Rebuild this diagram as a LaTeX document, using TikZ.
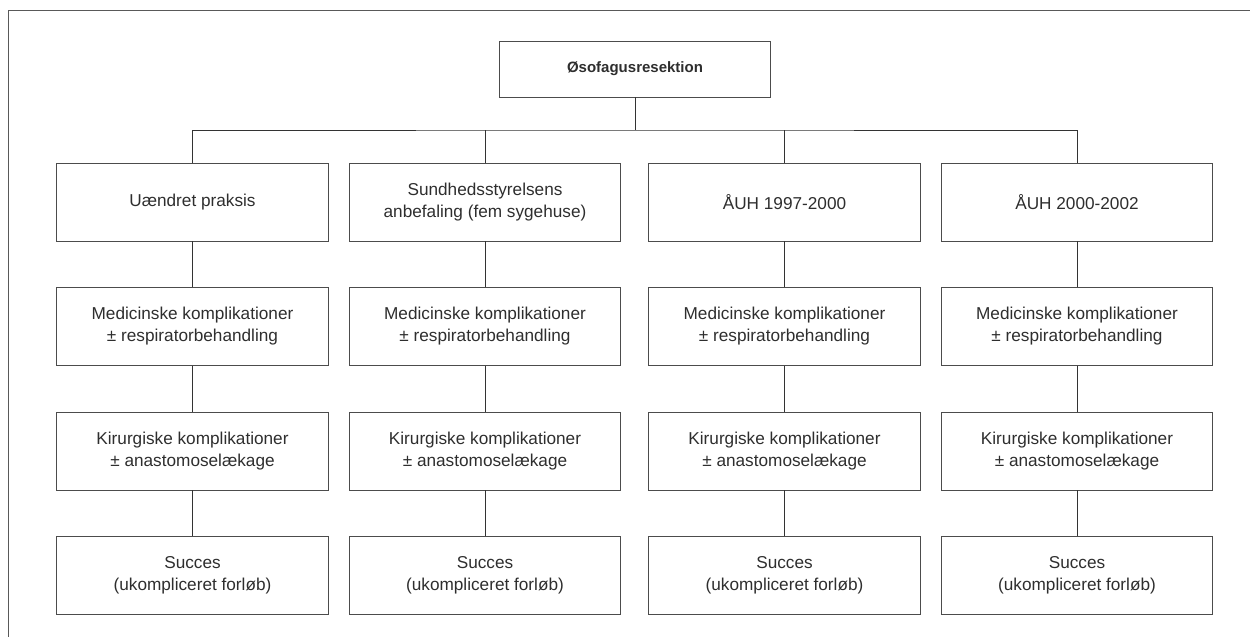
\documentclass[tikz,border=0pt]{standalone}
\usepackage{fontspec}
\setmainfont{Liberation Sans}
\begin{document}
\begin{tikzpicture}[x=1pt,y=-1pt,
  box/.style={draw=black!70,line width=0.9pt,minimum width=271.5pt,minimum height=78pt,
    align=center,inner sep=0pt,text=black!82,font=\fontsize{17.2}{22}\selectfont},
  topbox/.style={box,minimum height=56pt,font=\fontsize{15}{18}\selectfont\bfseries},
  conn/.style={draw=black!80,line width=0.9pt}]
\useasboundingbox (0,0) rectangle (1250,637);
\draw[black!65,line width=0.9pt] (1250,10) -- (8,10) -- (8,637);
\node[topbox] (top) at (635,69) {Øsofagusresektion};
\node[box] (a1) at (192.5,202) {Uændret praksis};
\node[box] (a2) at (485,202) {Sundhedsstyrelsens\\anbefaling (fem sygehuse)};
\node[box] (a3) at (784.5,202) {ÅUH 1997-2000};
\node[box] (a4) at (1077,202) {ÅUH 2000-2002};
\foreach \i/\x in {1/192.5,2/485,3/784.5,4/1077}{
  \node[box] (b\i) at (\x,326.5) {Medicinske komplikationer\\± respiratorbehandling};
  \node[box] (c\i) at (\x,451) {Kirurgiske komplikationer\\± anastomoselækage};
  \node[box] (d\i) at (\x,575) {Succes\\(ukompliceret forløb)};
  \draw[conn] (a\i) -- (b\i);
  \draw[conn] (b\i) -- (c\i);
  \draw[conn] (c\i) -- (d\i);
}
\coordinate (bus) at (635,130);
\draw[conn] (top.south) -- (bus);
\draw[conn] (a1.north) |- (bus) -| (a4.north);
\draw[conn] (a2.north) -- (a2.north |- bus);
\draw[conn] (a3.north) -- (a3.north |- bus);
\end{tikzpicture}
\end{document}
